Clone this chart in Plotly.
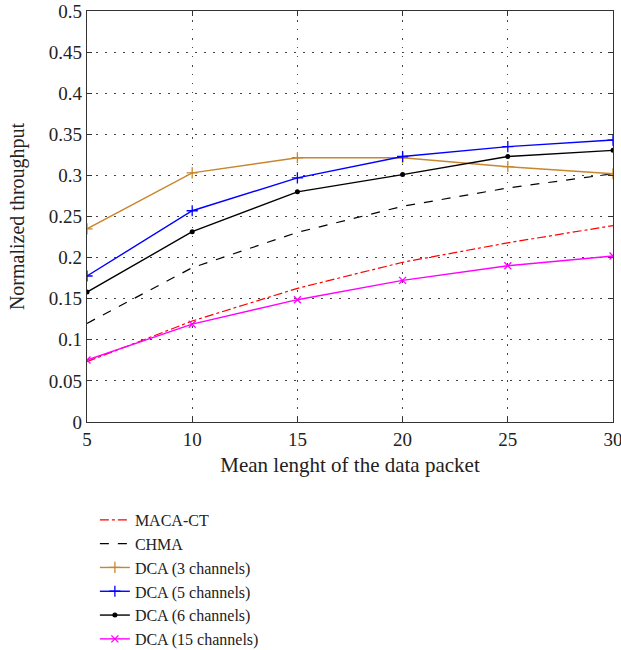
import plotly.graph_objects as go

x_vals = [5, 10, 15, 20, 25, 30]
maca_ct = [0.0734, 0.1229, 0.1626, 0.1943, 0.218, 0.2389]
chma = [0.120, 0.1877, 0.2307, 0.2624, 0.2847, 0.302]
dca3 = [0.235, 0.303, 0.3215, 0.3215, 0.3106, 0.302]
dca5 = [0.1776, 0.257, 0.297, 0.323, 0.335, 0.343]
dca6 = [0.158, 0.2315, 0.280, 0.301, 0.323, 0.3305]
dca15 = [0.0754, 0.119, 0.1488, 0.1723, 0.190, 0.202]

names = ["MACA-CT", "CHMA", "DCA (3 channels)", "DCA (5 channels)",
         "DCA (6 channels)", "DCA (15 channels)"]
x_ticks = [5, 10, 15, 20, 25, 30]
y_ticks = [0, 0.05, 0.1, 0.15, 0.2, 0.25, 0.3, 0.35, 0.4, 0.45, 0.5]
y_tick_text = ["0", "0.05", "0.1", "0.15", "0.2", "0.25", "0.3", "0.35", "0.4", "0.45", "0.5"]

FONT = "Liberation Serif, Times New Roman, serif"
TXT = "#222222"

fig = go.Figure()
fig.add_trace(go.Scatter(x=x_vals, y=maca_ct, name=names[0], mode="lines",
                         line=dict(color="#FF0000", width=1.2, dash="dashdot")))
fig.add_trace(go.Scatter(x=x_vals, y=chma, name=names[1], mode="lines",
                         line=dict(color="#000000", width=1.2, dash="dash")))
fig.add_trace(go.Scatter(x=x_vals, y=dca3, name=names[2], mode="lines+markers",
                         line=dict(color="#C8862E", width=1.4),
                         marker=dict(symbol="cross-thin-open", size=8,
                                     line=dict(color="#C8862E", width=1.3))))
fig.add_trace(go.Scatter(x=x_vals, y=dca5, name=names[3], mode="lines+markers",
                         line=dict(color="#0000FF", width=1.4),
                         marker=dict(symbol="cross-thin-open", size=8,
                                     line=dict(color="#0000FF", width=1.3))))
fig.add_trace(go.Scatter(x=x_vals, y=dca6, name=names[4], mode="lines+markers",
                         line=dict(color="#000000", width=1.4),
                         marker=dict(symbol="circle", size=5, color="#000000")))
fig.add_trace(go.Scatter(x=x_vals, y=dca15, name=names[5], mode="lines+markers",
                         line=dict(color="#FF00FF", width=1.4),
                         marker=dict(symbol="x-thin-open", size=7,
                                     line=dict(color="#FF00FF", width=1.3))))

axis_common = dict(
    showline=True, linecolor="#333333", linewidth=1.2, mirror="allticks",
    ticks="inside", ticklen=5, tickcolor="#333333",
    showgrid=True, gridcolor="#444444", gridwidth=1, griddash="1.5px,7.5px",
    zeroline=False, automargin=False, ticklabeloverflow="allow",
    tickfont=dict(family=FONT, size=19, color=TXT),
)

fig.update_xaxes(range=[5, 30], tickvals=x_ticks,
                 title=dict(text="Mean lenght of the data packet",
                            font=dict(family=FONT, size=21, color=TXT),
                            standoff=8),
                 **axis_common)
fig.update_yaxes(range=[0, 0.5], tickvals=y_ticks, ticktext=y_tick_text,
                 title=dict(text="Normalized throughput",
                            font=dict(family=FONT, size=20, color=TXT),
                            standoff=18),
                 **axis_common)

fig.update_layout(
    width=621, height=650,
    margin=dict(l=87, r=8, t=11, b=228, autoexpand=False),
    plot_bgcolor="white", paper_bgcolor="white",
    font=dict(family=FONT, size=19, color=TXT),
    legend=dict(x=0.015, xanchor="left", y=-0.197, yanchor="top",
                font=dict(family=FONT, size=16, color=TXT),
                tracegroupgap=0, itemwidth=30, bgcolor="rgba(0,0,0,0)"),
    showlegend=True,
)

fig.write_html("out.html", config={"displayModeBar": False},
               post_script="document.body.style.margin='0';document.body.style.overflow='hidden';")
